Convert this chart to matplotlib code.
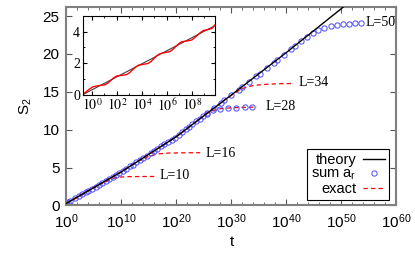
import numpy as np
import matplotlib.pyplot as plt
from matplotlib.ticker import FixedLocator, FuncFormatter, NullFormatter

plt.rcParams['font.family'] = ['Liberation Sans', 'DejaVu Sans']
plt.rcParams['mathtext.fontset'] = 'custom'
plt.rcParams['mathtext.rm'] = 'Liberation Sans'
plt.rcParams['mathtext.it'] = 'Liberation Sans:italic'
plt.rcParams['mathtext.bf'] = 'Liberation Sans:bold'

# theory: log10(t) and S2
theory_logt = [-1, 0, 10, 20, 30, 40, 50, 53]
theory_s2 = [-0.12, 0.3, 4.45, 9.1, 14.6, 20.2, 26.0, 27.8]

# sum a_r, L=50
sum50_logt = [0, 0.7, 1.6, 2.9, 3.5, 4.6, 5.9, 6.5, 7.7, 9.0, 9.6, 10.8, 12.1, 12.7,
              14.0, 15.3, 15.9, 17.2, 18.5, 19.1, 20.4, 21.7, 22.3, 23.6, 24.9, 25.5,
              26.8, 28.1, 28.7, 30.0, 31.3, 31.9, 33.2, 34.5, 35.1, 36.4, 37.7, 38.3,
              39.6, 40.9, 41.5, 42.7, 43.7, 44.8, 45.8, 46.9, 48.1, 49.2, 50.2, 51.3,
              52.4, 53.6]
sum50_s2 = [0.30, 0.62, 0.93, 1.53, 1.72, 2.24, 2.72, 3.03, 3.47, 4.07, 4.25, 4.85, 5.40,
            5.74, 6.28, 6.94, 7.16, 7.83, 8.37, 8.71, 9.29, 10.07, 10.34, 11.11, 11.77,
            12.16, 12.81, 13.59, 13.86, 14.63, 15.29, 15.68, 16.33, 17.11, 17.38, 18.15,
            18.81, 19.20, 19.85, 20.68, 21.0, 21.75, 22.3, 22.75, 23.15, 23.45, 23.7,
            23.85, 23.94, 24.0, 24.05, 24.1]

# sum a_r, L=28
sum28_logt = [0.3, 2.2, 4.0, 5.3, 7.1, 8.4, 10.2, 11.5, 13.3, 14.6, 16.4, 17.8, 19.7,
              21.0, 22.9, 24.2, 25.5, 26.7, 28.0, 29.4, 30.9, 32.4, 33.8]
sum28_s2 = [0.42, 1.21, 1.96, 2.50, 3.25, 3.79, 4.54, 5.15, 5.98, 6.59, 7.43, 8.08, 8.96,
            9.65, 10.70, 11.41, 12.1, 12.55, 12.78, 12.88, 12.93, 12.97, 13.0]

# exact curves
ex10_logt = [0, 1, 2, 3, 4, 5, 6, 7, 7.5, 8.5, 9.5, 11, 13, 16.4]
ex10_s2 = [0.3, 0.62, 1.13, 1.45, 1.96, 2.28, 2.79, 3.1, 3.28, 3.58, 3.74, 3.8, 3.82, 3.83]
ex16_logt = [0, 2, 4, 6, 8, 10, 12, 13.5, 15, 16.5, 18.5, 21, 24.3]
ex16_s2 = [0.3, 1.13, 1.96, 2.79, 3.62, 4.45, 5.38, 6.0, 6.5, 6.8, 6.92, 6.95, 6.97]
ex28_logt = [0, 5, 10, 15, 20, 23, 25, 26.5, 28, 30, 34.6]
ex28_s2 = [0.3, 2.38, 4.45, 6.78, 9.1, 10.75, 11.95, 12.5, 12.78, 12.9, 13.0]
ex34_logt = [0, 5, 10, 15, 20, 25, 29, 30.5, 32, 34, 36.4, 38.5, 41]
ex34_s2 = [0.3, 2.38, 4.45, 6.78, 9.1, 11.85, 14.05, 14.8, 15.45, 15.85, 16.0, 16.07, 16.1]

# inset: exact curve for small t
inset_logt = [-0.82, -0.5, -0.2, 0.1, 0.55, 1.04, 1.3, 1.51, 1.75, 1.98, 2.38, 2.78,
              3.02, 3.24, 3.48, 3.7, 4.1, 4.5, 4.74, 4.97, 5.2, 5.44, 5.84, 6.24, 6.48,
              6.71, 6.95, 7.18, 7.58, 7.98, 8.22, 8.44, 8.68, 8.9, 9.24, 9.58, 9.75, 9.9]
inset_s2 = [0.02, 0.15, 0.35, 0.5, 0.57, 0.62, 0.75, 0.9, 1.07, 1.18, 1.22, 1.27,
            1.4, 1.57, 1.74, 1.86, 1.92, 1.98, 2.12, 2.3, 2.48, 2.6, 2.67, 2.74, 2.88,
            3.06, 3.24, 3.36, 3.41, 3.47, 3.62, 3.78, 3.95, 4.07, 4.13, 4.2, 4.35, 4.5]

labels_L = ['L=10', 'L=16', 'L=28', 'L=34', 'L=50']
label_logt = [17.0, 25.2, 36.1, 42.1, 54.3]
label_s2 = [3.9, 6.9, 13.0, 16.25, 24.1]

T = lambda v: 10.0 ** np.asarray(v)
serif = ['Liberation Serif', 'DejaVu Serif']

fig = plt.figure(figsize=(4.15, 2.59), dpi=100)
ax = fig.add_axes([0.1602, 0.2066, 0.7952, 0.7664])

red = dict(color='red', lw=0.9, dashes=(3.5, 2.5))
ax.plot(T(ex10_logt), ex10_s2, **red)
ax.plot(T(ex16_logt), ex16_s2, **red)
ax.plot(T(ex28_logt), ex28_s2, **red)
ax.plot(T(ex34_logt), ex34_s2, **red)
ax.plot(T(theory_logt), theory_s2, color='black', lw=1.0, label='theory', zorder=3)
circ = dict(ls='none', marker='o', ms=3.8, mfc='none', mec='#4a4aff', mew=0.7)
ax.plot(T(sum28_logt), sum28_s2, **circ)
ax.plot(T(sum50_logt), sum50_s2, label=r'sum a$_{\rm r}$', **circ)
ax.plot([], [], label='exact', **red)

for lab, x, y in zip(labels_L, label_logt, label_s2):
    ax.text(10.0 ** x, y, lab, va='center', ha='left', fontsize=10, family=serif)

ax.set_xscale('log')
ax.set_xlim(1, 1e60)
ax.set_ylim(0, 26.2)
ax.xaxis.set_major_locator(FixedLocator(T(np.arange(0, 61, 10))))
ax.xaxis.set_minor_locator(FixedLocator(T(np.arange(0, 61, 2))))
ax.xaxis.set_major_formatter(FuncFormatter(lambda v, p: r'$10^{%d}$' % round(np.log10(v))))
ax.xaxis.set_minor_formatter(NullFormatter())
ax.set_yticks([0, 5, 10, 15, 20, 25])
ax.tick_params(which='both', direction='in', top=True, right=True, labelsize=11,
               color='#555555')
ax.tick_params(which='major', length=4, pad=5)
ax.tick_params(which='minor', length=2)
for s in ax.spines.values():
    s.set_color('#808080')
    s.set_linewidth(1.5)
ax.set_xlabel('t', fontsize=11, labelpad=3)
ax.set_ylabel(r'S$_2$', fontsize=11, labelpad=6)

leg = ax.legend(loc='lower right', bbox_to_anchor=(0.977, 0.028), borderaxespad=0,
                markerfirst=False, fontsize=10.5, handlelength=1.5, handletextpad=0.5,
                labelspacing=0.0, borderpad=0.25, numpoints=1, fancybox=False,
                framealpha=1)
leg.get_frame().set_edgecolor('black')
leg.get_frame().set_linewidth(0.8)

# inset
ins = fig.add_axes([0.2, 0.6351, 0.318, 0.3031])
ins.plot(T(theory_logt), theory_s2, color='#404040', lw=0.8)
ins.plot(T(inset_logt), inset_s2, color='red', lw=1.0)
ins.set_xscale('log')
ins.set_xlim(10 ** -0.72, 10 ** 9.84)
ins.set_ylim(0, 5)
ins_major = np.arange(0, 9, 2)
ins.set_xticks(T(ins_major), labels=[r'$10^{%d}$' % k for k in ins_major],
               math_fontfamily='stix', family=serif)
ins.xaxis.set_minor_locator(FixedLocator(T(np.arange(0, 10, 1))))
ins.xaxis.set_minor_formatter(NullFormatter())
ins.set_yticks([0, 2, 4], labels=['0', '2', '4'], family=serif)
ins.set_yticks([1, 3], minor=True)
ins.tick_params(which='both', direction='in', top=True, right=True, labelsize=10, pad=2)
ins.tick_params(which='major', length=3)
ins.tick_params(which='minor', length=1.5)
for s in ins.spines.values():
    s.set_linewidth(0.8)

fig.savefig('out.png', dpi=100)
